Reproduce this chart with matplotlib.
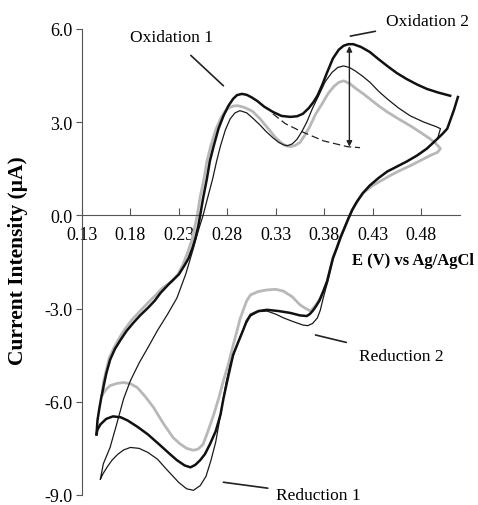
import matplotlib
matplotlib.use("Agg")
import matplotlib.pyplot as plt
import numpy as np

plt.rcParams['font.family'] = ['Liberation Serif', 'DejaVu Serif']

# thick black scan, forward branch
E_thick_fwd = [0.145, 0.146, 0.148, 0.150, 0.152, 0.155, 0.159, 0.164, 0.170, 0.176,
               0.183, 0.190, 0.198, 0.205, 0.211, 0.220, 0.230, 0.236, 0.240, 0.244,
               0.247, 0.250, 0.252, 0.255, 0.259, 0.262, 0.266, 0.271, 0.276, 0.281,
               0.286, 0.290, 0.295, 0.300, 0.305, 0.311, 0.318, 0.327, 0.336, 0.345,
               0.352, 0.358, 0.364, 0.369, 0.373, 0.378, 0.383, 0.389, 0.395, 0.400,
               0.405, 0.410, 0.418, 0.427, 0.436, 0.445, 0.455, 0.465, 0.476, 0.486,
               0.498, 0.510]
I_thick_fwd = [-7.05, -6.6, -6.2, -5.85, -5.55, -5.1, -4.65, -4.3, -4.0, -3.72,
               -3.46, -3.22, -2.98, -2.75, -2.5, -2.2, -1.9, -1.6, -1.38, -1.05,
               -0.74, -0.35, 0.0, 0.55, 1.19, 1.75, 2.24, 2.8, 3.2, 3.52,
               3.75, 3.87, 3.91, 3.88, 3.8, 3.68, 3.5, 3.33, 3.2, 3.17,
               3.19, 3.27, 3.45, 3.65, 3.85, 4.2, 4.6, 5.05, 5.33, 5.46,
               5.51, 5.51, 5.42, 5.26, 5.03, 4.81, 4.58, 4.39, 4.21, 4.07,
               3.95, 3.85]

# thick black scan, reverse branch
E_thick_rev = [0.518, 0.514, 0.510, 0.507, 0.502, 0.497, 0.486, 0.476, 0.465, 0.455,
               0.445, 0.436, 0.427, 0.420, 0.414, 0.409, 0.405, 0.401, 0.397, 0.393,
               0.389, 0.386, 0.383, 0.379, 0.375, 0.371, 0.368, 0.365, 0.362, 0.355,
               0.345, 0.333, 0.321, 0.312, 0.304, 0.300, 0.296, 0.291, 0.286, 0.283,
               0.280, 0.276, 0.273, 0.268, 0.262, 0.257, 0.252, 0.247, 0.242, 0.236,
               0.228, 0.221, 0.210, 0.198, 0.187, 0.177, 0.170, 0.162, 0.155, 0.149,
               0.146, 0.145]
I_thick_rev = [3.81, 3.4, 3.05, 2.79, 2.62, 2.47, 2.15, 1.93, 1.73, 1.57,
               1.41, 1.2, 0.96, 0.72, 0.45, 0.18, -0.1, -0.4, -0.7, -1.05,
               -1.38, -1.75, -2.12, -2.45, -2.75, -2.95, -3.08, -3.18, -3.24, -3.22,
               -3.14, -3.08, -3.04, -3.08, -3.2, -3.4, -3.72, -4.1, -4.49, -4.9,
               -5.32, -5.9, -6.41, -6.95, -7.37, -7.68, -7.88, -8.03, -8.11, -8.05,
               -7.88, -7.69, -7.38, -7.05, -6.8, -6.6, -6.5, -6.47, -6.55, -6.73,
               -6.9, -7.05]

# thin black scan
E_thin = [0.149, 0.152, 0.159, 0.166, 0.173, 0.180, 0.189, 0.198, 0.208, 0.218,
          0.228, 0.237, 0.245, 0.250, 0.255, 0.260, 0.265, 0.269, 0.273, 0.278,
          0.283, 0.288, 0.293, 0.300, 0.307, 0.314, 0.320, 0.327, 0.333, 0.338,
          0.342, 0.347, 0.352, 0.357, 0.362, 0.368, 0.375, 0.381, 0.388, 0.394,
          0.400, 0.406, 0.412, 0.420, 0.427, 0.436, 0.445, 0.457, 0.469, 0.483,
          0.496, 0.500,
          0.497, 0.486, 0.476, 0.465, 0.455, 0.445, 0.436, 0.427, 0.420, 0.414,
          0.409, 0.405, 0.401, 0.397, 0.393, 0.389, 0.386, 0.383, 0.379, 0.376,
          0.373, 0.368, 0.363, 0.358, 0.348, 0.338, 0.330, 0.321, 0.312, 0.304,
          0.298, 0.293, 0.288, 0.283, 0.279, 0.276, 0.272, 0.268, 0.263, 0.258,
          0.252, 0.245, 0.238, 0.230, 0.218, 0.208, 0.198, 0.189, 0.180, 0.173,
          0.167, 0.161, 0.156, 0.152, 0.149]
I_thin = [-8.49, -8.0, -7.47, -6.7, -5.9, -5.32, -4.75, -4.26, -3.7, -3.2,
          -2.66, -1.9, -1.06, -0.5, 0.0, 0.6, 1.19, 1.75, 2.24, 2.75,
          3.11, 3.3, 3.37, 3.3, 3.11, 2.9, 2.7, 2.5, 2.35, 2.27,
          2.24, 2.3, 2.45, 2.7, 3.0, 3.45, 3.9, 4.3, 4.6, 4.76,
          4.81, 4.76, 4.65, 4.47, 4.29, 4.0, 3.75, 3.45, 3.2, 3.0,
          2.85, 2.79,
          2.47, 2.15, 1.93, 1.73, 1.57, 1.41, 1.2, 0.96, 0.72, 0.45,
          0.18, -0.1, -0.4, -0.7, -1.05, -1.38, -1.8, -2.2, -2.66, -3.05,
          -3.3, -3.48, -3.55, -3.53, -3.42, -3.3, -3.18, -3.08, -3.1, -3.24,
          -3.55, -3.94, -4.35, -4.81, -5.35, -5.87, -6.6, -7.3, -7.9, -8.4,
          -8.7, -8.85, -8.8, -8.6, -8.2, -7.85, -7.63, -7.5, -7.47, -7.55,
          -7.69, -7.88, -8.1, -8.3, -8.49]

# grey scan
E_grey = [0.151, 0.152, 0.155, 0.158, 0.163, 0.168, 0.173, 0.181, 0.190, 0.198,
          0.205, 0.213, 0.223, 0.229, 0.234, 0.239, 0.244, 0.249, 0.252, 0.256,
          0.259, 0.263, 0.268, 0.273, 0.277, 0.281, 0.286, 0.291, 0.298, 0.306,
          0.314, 0.322, 0.329, 0.335, 0.340, 0.345, 0.350, 0.355, 0.360, 0.365,
          0.371, 0.378, 0.384, 0.390, 0.395, 0.400, 0.406, 0.412, 0.420, 0.427,
          0.436, 0.445, 0.457, 0.469, 0.479, 0.489, 0.495, 0.500,
          0.497, 0.489, 0.479, 0.469, 0.458, 0.448, 0.439, 0.430, 0.420, 0.414,
          0.409, 0.405, 0.401, 0.397, 0.393, 0.389, 0.386, 0.383, 0.379, 0.376,
          0.371, 0.366, 0.361, 0.355, 0.347, 0.338, 0.330, 0.321, 0.312, 0.304,
          0.300, 0.297, 0.293, 0.290, 0.285, 0.281, 0.276, 0.271, 0.266, 0.260,
          0.255, 0.250, 0.245, 0.238, 0.231, 0.224, 0.214, 0.204, 0.195, 0.187,
          0.180, 0.173, 0.166, 0.159, 0.155, 0.151]
I_grey = [-5.77, -5.4, -5.0, -4.6, -4.26, -3.98, -3.72, -3.38, -3.08, -2.82,
          -2.6, -2.34, -2.12, -1.9, -1.6, -1.2, -0.74, 0.0, 0.6, 1.19,
          1.75, 2.24, 2.75, 3.11, 3.32, 3.45, 3.52, 3.53, 3.47, 3.35,
          3.1, 2.8, 2.53, 2.35, 2.25, 2.21, 2.25, 2.35, 2.58, 2.85,
          3.25, 3.6, 3.92, 4.15, 4.28, 4.33, 4.25, 4.1, 3.92, 3.75,
          3.53, 3.33, 3.1, 2.88, 2.68, 2.47, 2.32, 2.15,
          2.03, 1.92, 1.76, 1.6, 1.44, 1.28, 1.12, 0.96, 0.72, 0.45,
          0.18, -0.1, -0.4, -0.7, -1.05, -1.38, -1.75, -2.15, -2.45, -2.66,
          -2.9, -3.08, -3.0, -2.88, -2.62, -2.44, -2.38, -2.4, -2.45, -2.56,
          -2.75, -3.0, -3.35, -3.72, -4.3, -4.8, -5.32, -5.9, -6.41, -6.95,
          -7.37, -7.52, -7.56, -7.5, -7.35, -7.15, -6.7, -6.19, -5.82, -5.54,
          -5.42, -5.38, -5.41, -5.48, -5.6, -5.77]

# dashed baseline under oxidation 2
E_base = [0.327, 0.340, 0.355, 0.379, 0.404, 0.417]
I_base = [3.27, 2.95, 2.72, 2.4, 2.21, 2.18]

xticks = [0.13, 0.18, 0.23, 0.28, 0.33, 0.38, 0.43, 0.48]
yticks = [-9.0, -6.0, -3.0, 0.0, 3.0, 6.0]

fig = plt.figure(figsize=(4.78, 5.06), dpi=100)
ax = fig.add_axes([0.1715, 0.0198, 0.7905, 0.9210])

ax.plot(E_grey, I_grey, color='#b8b8b8', lw=2.0, zorder=2)
ax.plot(E_thin, I_thin, color='#1a1a1a', lw=0.9, zorder=3)
ax.plot(E_thick_fwd, I_thick_fwd, color='#111111', lw=1.8, zorder=4)
ax.plot(E_thick_rev, I_thick_rev, color='#111111', lw=1.8, zorder=4)
ax.plot(E_base, I_base, color='#222222', lw=0.9, ls=(0, (6, 3)), zorder=3)

ax.set_xlim(0.13, 0.52)
ax.set_ylim(-9.0, 6.0)

for s in ['top', 'right']:
    ax.spines[s].set_visible(False)
ax.spines['bottom'].set_position(('data', 0))
ax.spines['left'].set_color('#555555')
ax.spines['bottom'].set_color('#555555')

ax.set_xticks(xticks)
ax.set_xticklabels(['%.2f' % t for t in xticks])
ax.set_yticks(yticks)
ax.set_yticklabels(['%.1f' % t for t in yticks])
ax.tick_params(axis='x', direction='in', length=5, pad=8, labelsize=13, color='#555555')
ax.tick_params(axis='y', direction='out', length=4, pad=3, labelsize=13, color='#555555')

ax.set_ylabel('Current Intensity (\u03bcA)', fontsize=15.5, fontweight='bold')
ax.yaxis.set_label_coords(-0.143, 0.505)
ax.text(0.535, -1.45, 'E (V) vs Ag/AgCl', fontsize=12, fontweight='bold',
        ha='right', va='center')

# double-headed arrow for peak height
ax.annotate('', xy=(0.406, 5.45), xytext=(0.406, 2.21),
            arrowprops=dict(arrowstyle='<|-|>', color='#222222', lw=1.0,
                            mutation_scale=8, shrinkA=0, shrinkB=0))

line_kw = dict(arrowstyle='-', color='#222222', lw=1.2, shrinkB=0)
ax.annotate('Oxidation 1', xy=(0.276, 4.17), xytext=(0.222, 5.74),
            fontsize=12.5, ha='center', va='center',
            arrowprops=dict(shrinkA=8, **line_kw))
ax.annotate('Oxidation 2', xy=(0.407, 5.77), xytext=(0.487, 6.25),
            fontsize=12.5, ha='center', va='center', annotation_clip=False,
            arrowprops=dict(shrinkA=6, **line_kw))
ax.annotate('Reduction 2', xy=(0.371, -3.85), xytext=(0.460, -4.52),
            fontsize=12.5, ha='center', va='center',
            arrowprops=dict(shrinkA=8, **line_kw))
ax.annotate('Reduction 1', xy=(0.276, -8.59), xytext=(0.374, -9.0),
            fontsize=12.5, ha='center', va='center', annotation_clip=False,
            arrowprops=dict(shrinkA=4, **line_kw))

fig.savefig('out.png', dpi=100)
